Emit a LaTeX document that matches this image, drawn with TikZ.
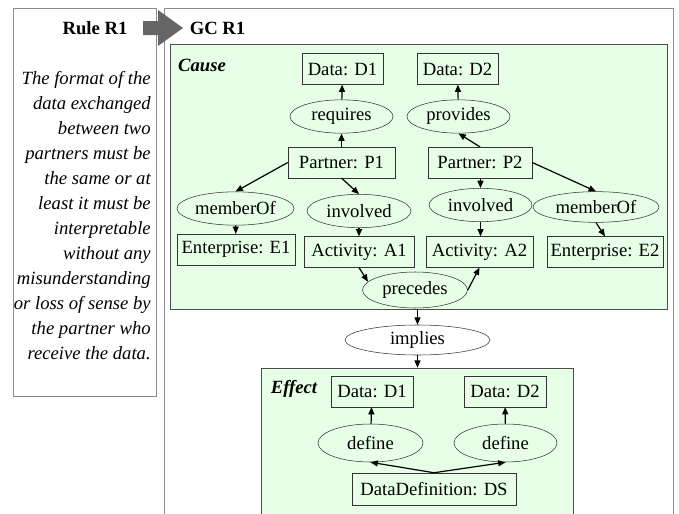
\documentclass[tikz,border=0pt]{standalone}
\usepackage{fontspec}
\setmainfont{Liberation Serif}
\usetikzlibrary{arrows.meta}
\usetikzlibrary{shapes.geometric}

\definecolor{causefill}{HTML}{E6FFE6}
\definecolor{arrowgray}{HTML}{666666}

\begin{document}
\begin{tikzpicture}[x=0.75pt, y=-0.75pt,
    box/.style={draw=black!80, rectangle, minimum height=23pt, inner sep=0pt, font=\fontsize{14}{16}\selectfont},
    rel/.style={draw=black!80, ellipse, minimum height=25pt, inner sep=0pt, font=\fontsize{14}{16}\selectfont},
    frame/.style={draw=black!45, rectangle, inner sep=0pt},
    part/.style={draw=black!70, fill=causefill, rectangle, inner sep=0pt},
    ttl/.style={inner sep=0pt, font=\fontsize{14}{16}\selectfont\bfseries},
    link/.style={-{Triangle[length=5.5pt,width=4.5pt]}, line width=0.9pt}]

        \def\ellh{28.5pt}

        \useasboundingbox (0,0) rectangle (679,514);

        \node[frame, minimum width=107.25pt, minimum height=291pt] (rule) at (84.5,202) {};
        \node[frame, minimum width=381.75pt, minimum height=391.5pt] (gc) at (418.5,269) {};
        \fill[arrowgray] (143,21) -- (158,21) -- (158,10) -- (183,28) -- (158,46) -- (158,35) -- (143,35) -- cycle;

        \node[ttl] (rulettl) at (95,28) {Rule R1};
        \node[ttl] (gcttl) at (217.5,28) {GC R1};
        \node[anchor=north east, align=right, inner sep=0pt, font=\fontsize{14}{18.75}\selectfont\itshape] (ruletxt) at (151,71)
            {The format of the\\data exchanged\\between two\\partners must be\\the same or at\\least it must be\\interpretable\\without any\\misunderstanding\\or loss of sense by\\the partner who\\receive the data.};

        \node[part, minimum width=372.75pt, minimum height=198.75pt] (cause) at (418.5,176.5) {};
        \node[part, minimum width=234pt, minimum height=121.5pt] (effect) at (417,449) {};
        \node[ttl, font=\fontsize{14}{16}\selectfont\bfseries\itshape] (causelbl) at (202,65) {Cause};
        \node[ttl, font=\fontsize{14}{16}\selectfont\bfseries\itshape] (effectlbl) at (294,389) {Effect};

        \node[box, minimum width=60.75pt] (d1) at (342.5,69) {Data: D1};
        \node[box, minimum width=60.75pt] (d2) at (457.5,69) {Data: D2};
        \node[rel, minimum width=77.25pt] (req) at (341.5,116.5) {requires};
        \node[rel, minimum width=77.25pt] (prov) at (458.5,116.5) {provides};
        \node[box, minimum width=80.25pt] (p1) at (341.5,162.5) {Partner: P1};
        \node[box, minimum width=78pt] (p2) at (480,162.5) {Partner: P2};
        \node[rel, minimum width=87.75pt] (mem1) at (235.5,208.5) {memberOf};
        \node[rel, minimum width=78pt] (inv1) at (359,211) {involved};
        \node[rel, minimum width=77.25pt] (inv2) at (480.5,205) {involved};
        \node[rel, minimum width=94.5pt, minimum height=23pt] (mem2) at (596,207) {memberOf};
        \node[box, minimum width=88.5pt] (e1) at (236,249.5) {Enterprise: E1};
        \node[box, minimum width=82.5pt] (a1) at (359,252) {Activity: A1};
        \node[box, minimum width=80.25pt] (a2) at (479.5,252) {Activity: A2};
        \node[box, minimum width=87pt] (e2) at (605,252) {Enterprise: E2};
        \node[rel, minimum width=78.75pt, minimum height=27pt] (prec) at (415,290) {precedes};

        \node[rel, minimum width=108.75pt, minimum height=22.5pt] (impl) at (417.5,340) {implies};

        \node[box, minimum width=61.5pt] (ed1) at (372,391.5) {Data: D1};
        \node[box, minimum width=61.5pt] (ed2) at (505,391.5) {Data: D2};
        \node[rel, minimum width=78.75pt, minimum height=\ellh] (def1) at (370.5,443) {define};
        \node[rel, minimum width=77.25pt, minimum height=\ellh] (def2) at (505.5,443) {define};
        \node[box, minimum width=123pt, minimum height=24pt] (ds) at (434,489) {DataDefinition: DS};

        \draw[link] (req) -- (d1);
        \draw[link] (p1) -- (req);
        \draw[link] (prov) -- (d2);
        \draw[link] (p2.north) -- (prov.south);
        \draw[link] (p1.west) -- (mem1.north);
        \draw[link] (p1.south) -- (inv1.north);
        \draw[link] (mem1) -- (e1);
        \draw[link] (inv1) -- (a1);
        \draw[link] (p2.south -| inv2) -- (inv2);
        \draw[link] (inv2) -- (a2.north -| inv2);
        \draw[link] (p2.east) -- (mem2.north);
        \draw[link] (mem2.south) -- (e2.north);
        \draw[link] (a1.south) -- (prec.170);
        \draw[link] (prec.east) -- (a2.south);

        \draw[link] (impl.north |- cause.south) -- (impl);
        \draw[link] (impl) -- (impl.south |- effect.north);

        \draw[link] (def1) -- (ed1);
        \draw[link] (def2) -- (ed2);
        \draw[link] (ds.north) -- (def1.south);
        \draw[link] (ds.north) -- (def2.south);

      \end{tikzpicture}
\end{document}
